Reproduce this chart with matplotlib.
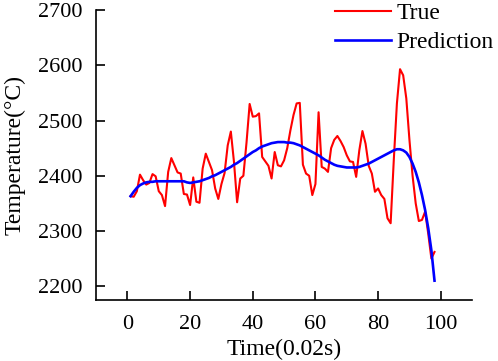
import matplotlib
matplotlib.use("Agg")
import matplotlib.pyplot as plt
import numpy as np

plt.rcParams['font.family'] = ['Liberation Serif', 'DejaVu Serif']
plt.rcParams['mathtext.fontset'] = 'stix'

time = list(range(1, 99))
true_vals = [2363, 2362, 2372, 2402, 2392, 2384, 2387, 2403, 2399, 2372,
             2365, 2345, 2407, 2432, 2419, 2406, 2404, 2367, 2366, 2347,
             2397, 2353, 2351, 2413, 2440, 2425, 2410, 2377, 2358, 2385,
             2405, 2455, 2480, 2425, 2352, 2395, 2400, 2460, 2530, 2507,
             2508, 2513, 2434, 2426, 2418, 2395, 2443, 2419, 2417, 2428,
             2450, 2482, 2510, 2531, 2532, 2420, 2404, 2400, 2365, 2385,
             2515, 2416, 2413, 2407, 2450, 2465, 2472, 2463, 2452, 2437,
             2426, 2425, 2398, 2446, 2481, 2458, 2418, 2404, 2371, 2377,
             2365, 2358, 2323, 2314, 2428, 2531, 2593, 2582, 2540, 2465,
             2400, 2350, 2318, 2320, 2335, 2295, 2250, 2262]
pred_vals = [2363, 2371, 2378, 2383, 2386, 2388, 2389, 2389, 2390, 2390,
             2390, 2390, 2390, 2390, 2390, 2390, 2390, 2390, 2388, 2387,
             2388, 2389, 2390, 2392, 2394, 2396, 2399, 2401, 2404, 2407,
             2410, 2413, 2416, 2420, 2423, 2427, 2431, 2435, 2439, 2443,
             2446, 2450, 2453, 2455, 2457, 2459, 2460, 2461, 2461, 2461,
             2460, 2460, 2459, 2457, 2455, 2452, 2449, 2446, 2443, 2440,
             2437, 2433, 2429, 2426, 2423, 2420, 2418, 2417, 2416, 2415,
             2415, 2415, 2415, 2416, 2418, 2420, 2422, 2425, 2428, 2431,
             2434, 2437, 2440, 2443, 2446, 2448, 2448, 2446, 2442, 2434,
             2422, 2407, 2388, 2365, 2338, 2305, 2265, 2210]

xticks = [0, 20, 40, 60, 80, 100]
yticks = [2200, 2300, 2400, 2500, 2600, 2700]

fig = plt.figure(figsize=(4.98, 3.61), dpi=100)
ax = fig.add_axes([0.193, 0.169, 0.755, 0.803])

ax.plot(time, true_vals, color='#ff0000', lw=1.5, label='True')
ax.plot(time, pred_vals, color='#0000ff', lw=1.9, label='Prediction')

ax.set_xlim(-10, 110)
ax.set_ylim(2175, 2700)
ax.set_xticks(xticks)
ax.set_yticks(yticks)
ax.tick_params(direction='in', length=6.5, width=1.2, labelsize=16, colors='black')
ax.tick_params(axis='y', pad=10)
ax.tick_params(axis='x', pad=11)
for s in ['top', 'right']:
    ax.spines[s].set_visible(False)
for s in ['left', 'bottom']:
    ax.spines[s].set_linewidth(1.2)
    ax.spines[s].set_color('black')

ax.set_xlabel('Time(0.02s)', fontsize=17, labelpad=3)
ax.set_ylabel('Temperature(°C)', fontsize=17, labelpad=9)

leg = ax.legend(loc='upper right', bbox_to_anchor=(0.994, 0.997), bbox_transform=fig.transFigure,
                frameon=False, fontsize=17, handlelength=2.35, handletextpad=0.25,
                labelspacing=0.32, borderaxespad=0.0, borderpad=0.05)

fig.savefig('out.png', dpi=100)
